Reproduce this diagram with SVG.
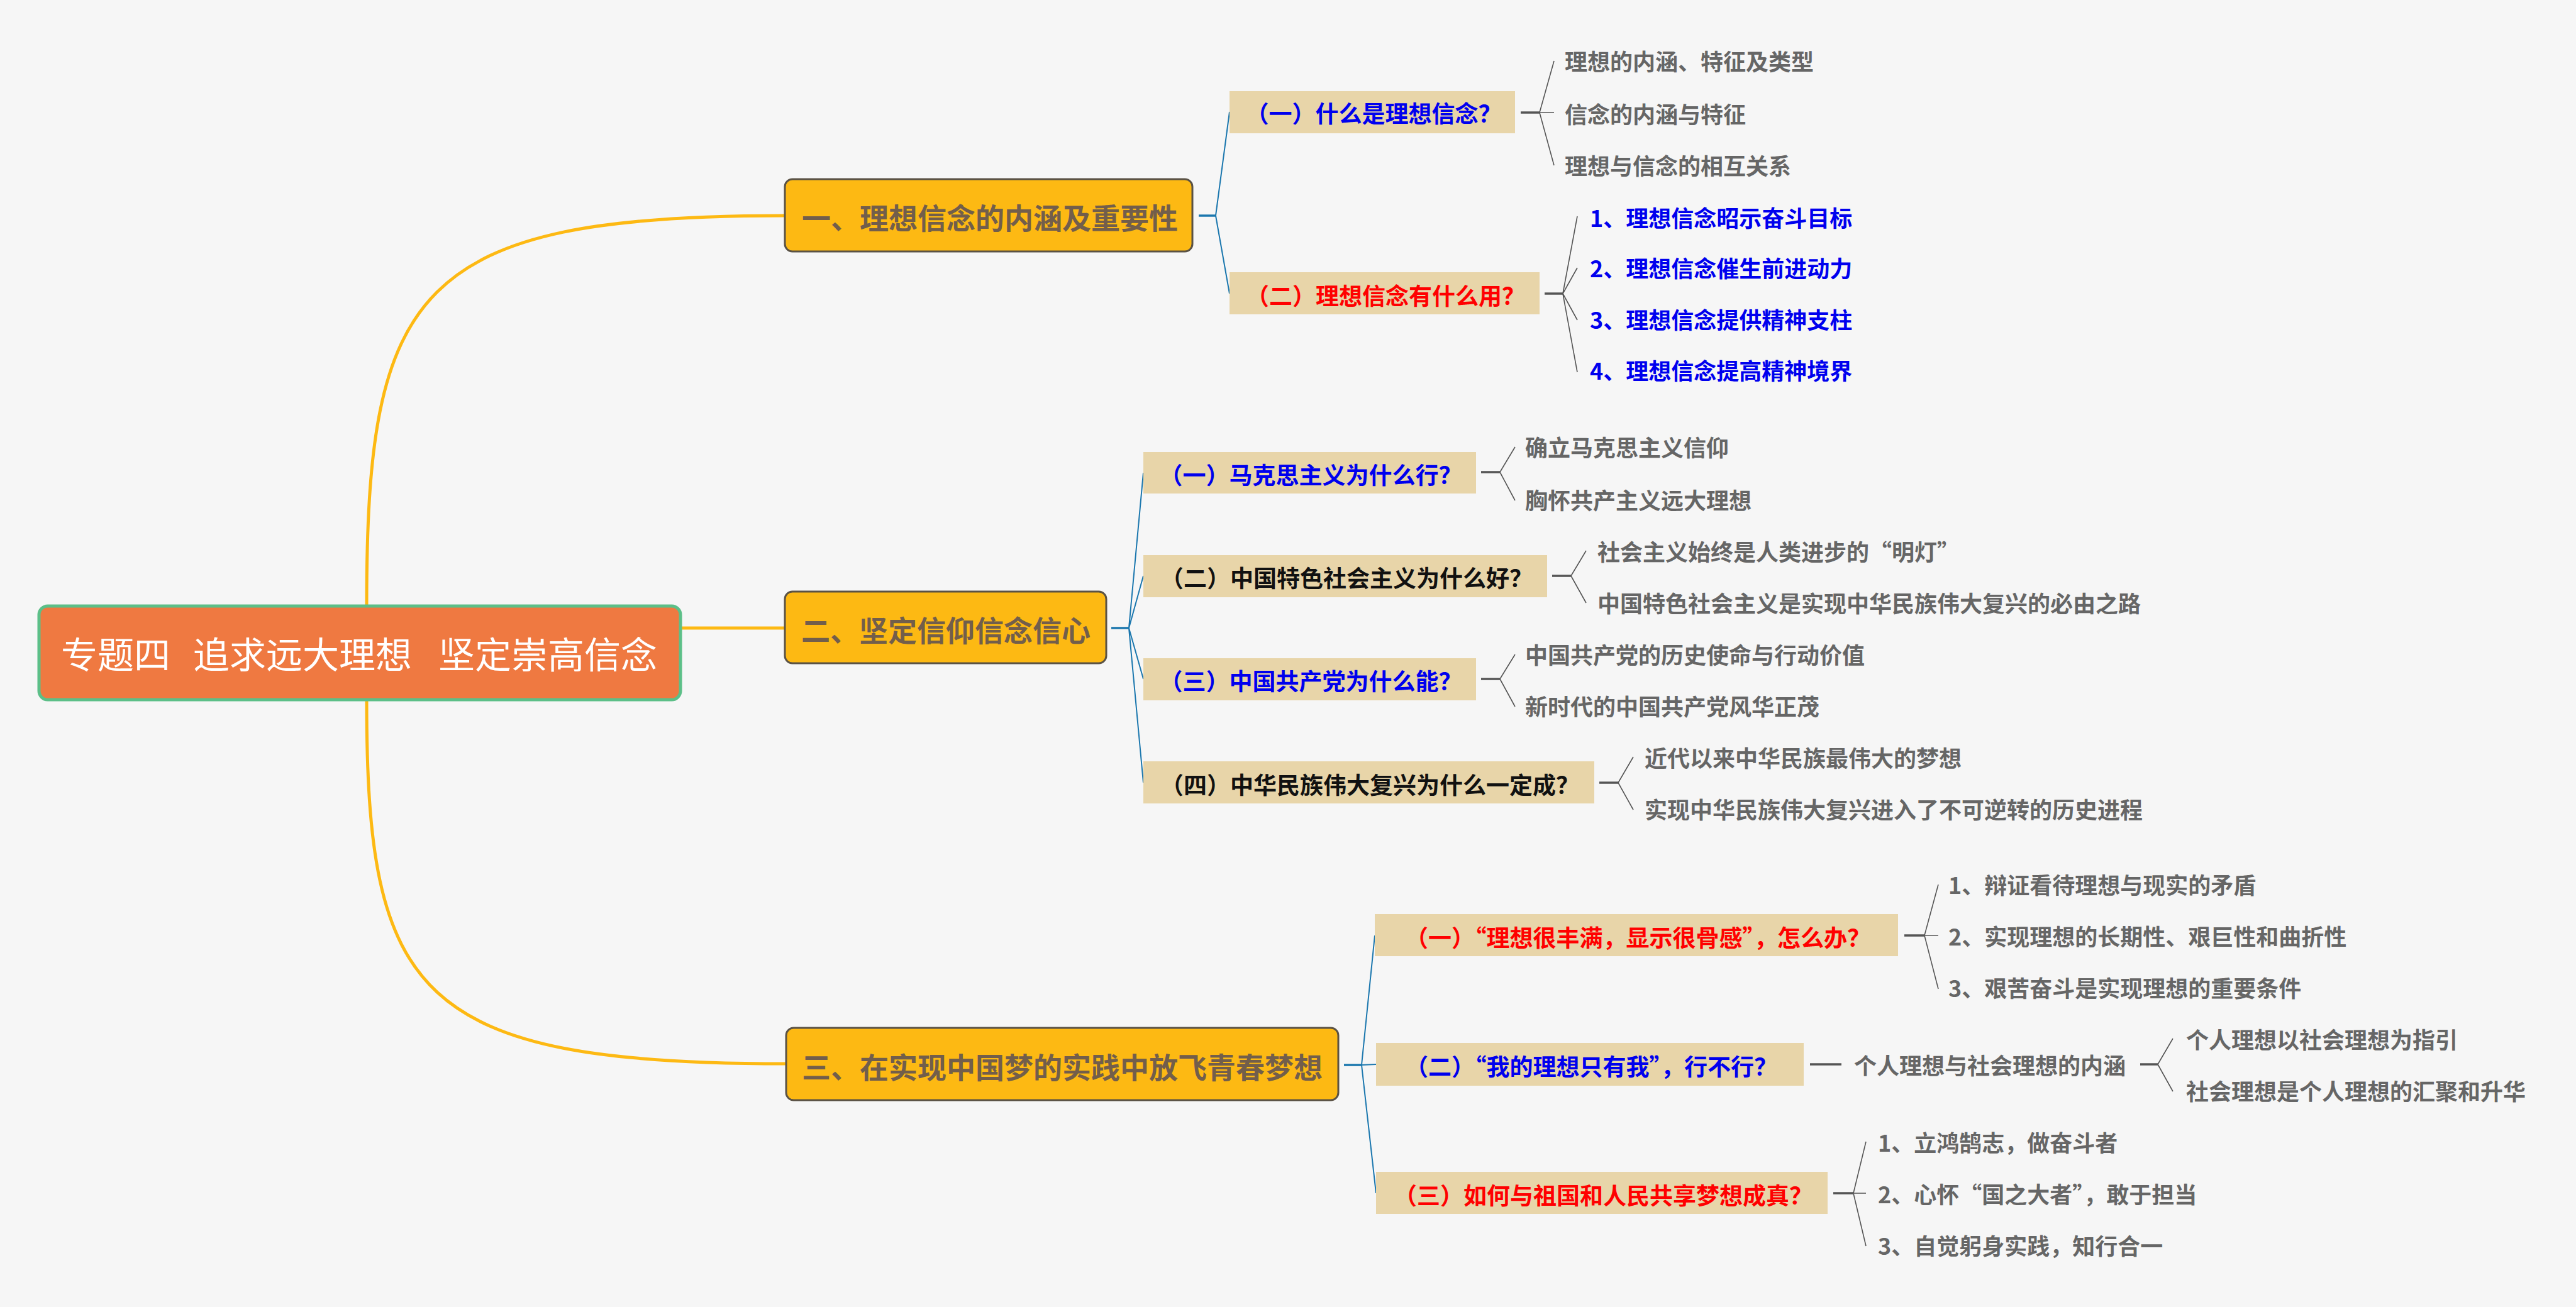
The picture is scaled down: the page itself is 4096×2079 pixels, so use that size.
<svg xmlns="http://www.w3.org/2000/svg" width="4096" height="2079" viewBox="0 0 4096 2079">
<style>
text{font-family:"Noto Sans CJK SC","Noto Sans",sans-serif;font-weight:700}
.root{fill:#fff;font-size:58px;font-weight:400}
.l1{fill:#725E4B;font-size:46px;text-anchor:middle}
.l2{font-size:37px;text-anchor:middle}
.leaf{fill:#666;font-size:36px}
.blue{fill:#0000EE}
.red{fill:#FF0000}
.black{fill:#111}
.box2{fill:#E8D5A9}
.box1{fill:#FDB913;stroke:#5A5245;stroke-width:3}
.cb{stroke:#1B77AE;stroke-width:2;fill:none}
.cg{stroke:#555;stroke-width:1.6;fill:none}
.s{stroke-width:3.5}
.cy{stroke:#FDB913;stroke-width:5;fill:none}
</style>
<rect width="4096" height="2079" fill="#F6F6F6"/>
<g id="connectors">
<path class="cy" d="M583,964 C583,460 660,343 1248,343"/>
<path class="cy" d="M1082,999 L1248,999"/>
<path class="cy" d="M583,1113 C583,1582 660,1692 1250,1692"/>
<path class="cb s" d="M1906,343 H1933"/>
<path class="cb" d="M1933,343 L1955,178 M1933,343 L1955,467"/>
<path class="cb s" d="M1767,999 H1795"/>
<path class="cb" d="M1795,999 L1818,752 M1795,999 L1818,916 M1795,999 L1818,1080 M1795,999 L1818,1245"/>
<path class="cb s" d="M2137,1694 H2165"/>
<path class="cb" d="M2165,1694 L2186,1488 M2165,1694 L2188,1693 M2165,1694 L2188,1898"/>
<path class="cg s" d="M2418,179 H2448"/>
<path class="cg" d="M2448,179 L2471,97 M2448,179 L2471,179 M2448,179 L2471,263"/>
<path class="cg s" d="M2456,467 H2485"/>
<path class="cg" d="M2485,467 L2508,344 M2485,467 L2508,426 M2485,467 L2508,509 M2485,467 L2508,592"/>
<path class="cg s" d="M2355,751 H2385"/>
<path class="cg" d="M2385,751 L2409,711 M2385,751 L2409,796"/>
<path class="cg s" d="M2468,916 H2498"/>
<path class="cg" d="M2498,916 L2522,876 M2498,916 L2522,959"/>
<path class="cg s" d="M2355,1080 H2385"/>
<path class="cg" d="M2385,1080 L2409,1041 M2385,1080 L2409,1124"/>
<path class="cg s" d="M2543,1245 H2573"/>
<path class="cg" d="M2573,1245 L2597,1204 M2573,1245 L2597,1288"/>
<path class="cg s" d="M3028,1488 H3060"/>
<path class="cg" d="M3060,1488 L3082,1407 M3060,1488 L3082,1488 M3060,1488 L3082,1573"/>
<path class="cg s" d="M2878,1693 H2928"/>
<path class="cg s" d="M3403,1693 H3431"/>
<path class="cg" d="M3431,1693 L3455,1652 M3431,1693 L3455,1736"/>
<path class="cg s" d="M2915,1898 H2947"/>
<path class="cg" d="M2947,1898 L2967,1816 M2947,1898 L2967,1898 M2947,1898 L2967,1982"/>
</g>
<g id="root">
<rect x="62" y="964" width="1020" height="149" rx="14" fill="#EF7941" stroke="#5CBF88" stroke-width="5"/>
<text class="root" y="1063"><tspan x="97">专题四</tspan><tspan x="307">追求远大理想</tspan><tspan x="697">坚定崇高信念</tspan></text>
</g>
<g id="n1">
<rect class="box1" x="1248" y="285" width="648" height="115" rx="12"/>
<text class="l1" x="1574" y="364">一、理想信念的内涵及重要性</text>
</g>
<g id="n2">
<rect class="box1" x="1248" y="941" width="511" height="114" rx="12"/>
<text class="l1" x="1504" y="1020">二、坚定信仰信念信心</text>
</g>
<g id="n3">
<rect class="box1" x="1250" y="1635" width="878" height="115" rx="12"/>
<text class="l1" x="1689" y="1715">三、在实现中国梦的实践中放飞青春梦想</text>
</g>
<g id="n1a">
<rect class="box2" x="1955" y="145" width="454" height="67"/>
<text class="l2 blue" x="2184" y="195">（一）什么是理想信念？</text>
</g>
<g id="n1b">
<rect class="box2" x="1955" y="433" width="493" height="67"/>
<text class="l2 red" x="2203" y="485">（二）理想信念有什么用？</text>
</g>
<g id="n2a">
<rect class="box2" x="1818" y="719" width="529" height="66"/>
<text class="l2 blue" x="2084" y="770">（一）马克思主义为什么行？</text>
</g>
<g id="n2b">
<rect class="box2" x="1818" y="883" width="642" height="67"/>
<text class="l2 black" x="2141" y="934">（二）中国特色社会主义为什么好？</text>
</g>
<g id="n2c">
<rect class="box2" x="1818" y="1047" width="529" height="67"/>
<text class="l2 blue" x="2084" y="1098">（三）中国共产党为什么能？</text>
</g>
<g id="n2d">
<rect class="box2" x="1818" y="1211" width="717" height="67"/>
<text class="l2 black" x="2178" y="1263">（四）中华民族伟大复兴为什么一定成？</text>
</g>
<g id="n3a">
<rect class="box2" x="2186" y="1454" width="832" height="67"/>
<text class="l2 red" x="2604" y="1506">（一）“理想很丰满，显示很骨感”，怎么办？</text>
</g>
<g id="n3b">
<rect class="box2" x="2188" y="1659" width="680" height="68"/>
<text class="l2 blue" x="2530" y="1711">（二）“我的理想只有我”，行不行？</text>
</g>
<g id="n3c">
<rect class="box2" x="2188" y="1864" width="718" height="67"/>
<text class="l2 red" x="2549" y="1916">（三）如何与祖国和人民共享梦想成真？</text>
</g>
<g id="leaves1a">
<text class="leaf" x="2488" y="112">理想的内涵、特征及类型</text>
<text class="leaf" x="2488" y="196">信念的内涵与特征</text>
<text class="leaf" x="2488" y="278">理想与信念的相互关系</text>
</g>
<g id="leaves1b">
<text class="leaf blue" x="2528" y="361">1、理想信念昭示奋斗目标</text>
<text class="leaf blue" x="2528" y="441">2、理想信念催生前进动力</text>
<text class="leaf blue" x="2528" y="523">3、理想信念提供精神支柱</text>
<text class="leaf blue" x="2528" y="604">4、理想信念提高精神境界</text>
</g>
<g id="leaves2a">
<text class="leaf" x="2425" y="726">确立马克思主义信仰</text>
<text class="leaf" x="2425" y="810">胸怀共产主义远大理想</text>
</g>
<g id="leaves2b">
<text class="leaf" x="2540" y="892">社会主义始终是人类进步的“明灯”</text>
<text class="leaf" x="2540" y="974">中国特色社会主义是实现中华民族伟大复兴的必由之路</text>
</g>
<g id="leaves2c">
<text class="leaf" x="2425" y="1056">中国共产党的历史使命与行动价值</text>
<text class="leaf" x="2425" y="1138">新时代的中国共产党风华正茂</text>
</g>
<g id="leaves2d">
<text class="leaf" x="2615" y="1220">近代以来中华民族最伟大的梦想</text>
<text class="leaf" x="2615" y="1302">实现中华民族伟大复兴进入了不可逆转的历史进程</text>
</g>
<g id="leaves3a">
<text class="leaf" x="3098" y="1422">1、辩证看待理想与现实的矛盾</text>
<text class="leaf" x="3098" y="1504">2、实现理想的长期性、艰巨性和曲折性</text>
<text class="leaf" x="3098" y="1586">3、艰苦奋斗是实现理想的重要条件</text>
</g>
<g id="n3b1">
<text class="leaf" x="2948" y="1709">个人理想与社会理想的内涵</text>
</g>
<g id="leaves3b">
<text class="leaf" x="3476" y="1668">个人理想以社会理想为指引</text>
<text class="leaf" x="3476" y="1750">社会理想是个人理想的汇聚和升华</text>
</g>
<g id="leaves3c">
<text class="leaf" x="2986" y="1832">1、立鸿鹄志，做奋斗者</text>
<text class="leaf" x="2986" y="1914">2、心怀“国之大者”，敢于担当</text>
<text class="leaf" x="2986" y="1996">3、自觉躬身实践，知行合一</text>
</g>
</svg>
